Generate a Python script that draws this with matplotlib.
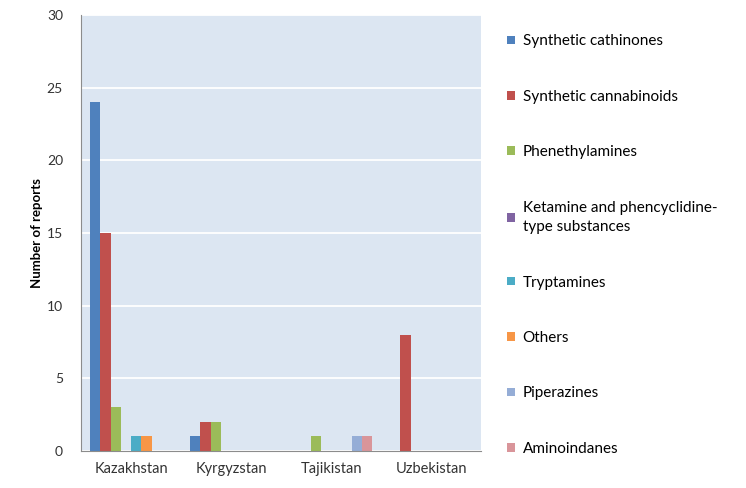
import numpy as np
import matplotlib.pyplot as plt
from matplotlib.patches import Patch

plt.rcParams['font.family'] = ['Lato', 'DejaVu Sans']

countries = ['Kazakhstan', 'Kyrgyzstan', 'Tajikistan', 'Uzbekistan']
groups = ['Synthetic cathinones', 'Synthetic cannabinoids', 'Phenethylamines',
          'Ketamine and phencyclidine-\ntype substances', 'Tryptamines', 'Others',
          'Piperazines', 'Aminoindanes']
counts = [
    [24, 1, 0, 0],   # synthetic cathinones
    [15, 2, 0, 8],   # synthetic cannabinoids
    [3, 2, 1, 0],    # phenethylamines
    [0, 0, 0, 0],    # ketamine / PCP-type
    [1, 0, 0, 0],    # tryptamines
    [1, 0, 0, 0],    # others
    [0, 0, 1, 0],    # piperazines
    [0, 0, 1, 0],    # aminoindanes
]
colors = ['#4F81BD', '#C0504D', '#9BBB59', '#8064A2', '#4BACC6', '#F79646',
          '#95ADD6', '#D9959A']

fig = plt.figure(figsize=(7.46, 4.88), dpi=100)
ax = fig.add_axes([0.1086, 0.0758, 0.5362, 0.8932])
ax.set_facecolor('#DCE6F2')

x = np.arange(len(countries))
n = len(groups)
w = 0.82 / n
for i, (name, vals) in enumerate(zip(groups, counts)):
    ax.bar(x - 0.41 + w * (i + 0.5), vals, width=w, color=colors[i],
           label=name, zorder=3)

ax.set_xlim(-0.5, 3.5)
ax.set_ylim(0, 30)
ax.set_yticks(np.arange(0, 31, 5))
ax.set_xticks(x)
ax.set_xticklabels(countries)
ax.yaxis.grid(True, color='white', linewidth=1.3, zorder=1)
ax.tick_params(length=0, labelsize=10, colors='#333333', pad=13)
ax.tick_params(axis='x', labelsize=10.5, pad=8)
for s in ['top', 'right']:
    ax.spines[s].set_visible(False)
for s in ['left', 'bottom']:
    ax.spines[s].set_color('#8C8C8C')
    ax.spines[s].set_zorder(4)
ax.set_ylabel('Number of reports', fontsize=9.5, fontweight='bold', labelpad=3)

handles = [Patch(facecolor=c) for c in colors]
leg = fig.legend(handles, groups, loc='upper left', bbox_to_anchor=(0.672, 0.942),
                 frameon=False, fontsize=11, handlelength=0.5, handleheight=0.5,
                 handletextpad=0.5, labelspacing=2.71, borderaxespad=0)
for t in leg.get_texts():
    t.set_linespacing(1.5)

fig.savefig('out.png', dpi=100)
